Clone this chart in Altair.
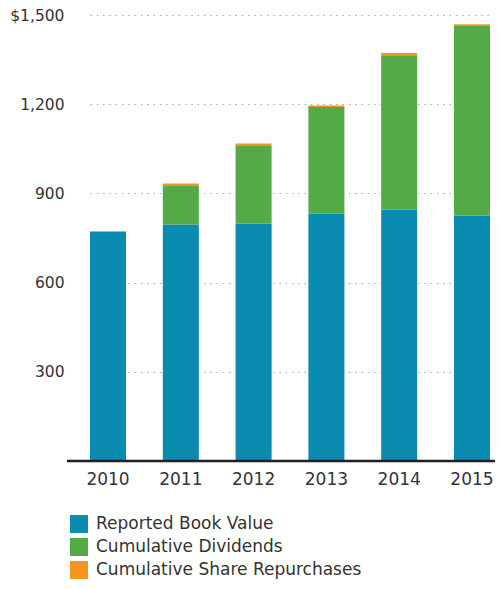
import altair as alt
import pandas as pd

years = ["2010", "2011", "2012", "2013", "2014", "2015"]
book_value = [772, 795, 799, 832, 846, 826]
dividends = [0, 132, 263, 359, 519, 637]
repurchases = [0, 6, 6, 5, 7, 6]
series = ["Reported Book Value", "Cumulative Dividends", "Cumulative Share Repurchases"]
colors = ["#0a8cb1", "#53aa47", "#f7941d"]
y_ticks = [300, 600, 900, 1200, 1500]

rows = []
for i, y in enumerate(years):
    for k, (name, vals) in enumerate(zip(series, [book_value, dividends, repurchases])):
        rows.append({"year": y, "series": name, "value": vals[i], "order": k})
df = pd.DataFrame(rows)

FONT = "DejaVu Sans"
W, H = 428, 446

bars = alt.Chart(df).mark_bar().encode(
    x=alt.X("year:N", title=None,
            scale=alt.Scale(range=[23, 423], paddingInner=0.505, paddingOuter=0),
            axis=alt.Axis(labelAngle=0, ticks=False, domain=False, labelPadding=10,
                          labelFontSize=17, labelFont=FONT, labelColor="#333333")),
    y=alt.Y("value:Q", title=None, stack="zero",
            scale=alt.Scale(domain=[0, 1500], nice=False),
            axis=alt.Axis(values=y_ticks, ticks=False, domain=False, labelPadding=3,
                          labelFontSize=15.5, labelFont=FONT, labelColor="#333333",
                          labelExpr="datum.value == 1500 ? '$1,500' : format(datum.value, ',')",
                          grid=True, gridColor="#aaaaaa", gridDash=[1.5, 4.8], gridWidth=1.2)),
    color=alt.Color("series:N", scale=alt.Scale(domain=series, range=colors),
                    legend=alt.Legend(title=None, orient="none", legendX=3, legendY=500,
                                      symbolType="square", symbolSize=324, symbolStrokeWidth=0,
                                      labelFontSize=17, labelFont=FONT, labelColor="#333333",
                                      labelOffset=8, rowPadding=5, labelLimit=400)),
    order=alt.Order("order:Q", sort="ascending"),
)

axis_line = alt.Chart(pd.DataFrame({"v": [0]})).mark_rule(color="#231f20", strokeWidth=2.5).encode(
    x=alt.value(0), x2=alt.value(W), y=alt.value(H)
)

chart = alt.layer(bars, axis_line).properties(
    width=W, height=H,
    autosize=alt.AutoSizeParams(type="none"),
    padding={"left": 59, "top": 7, "right": 0, "bottom": 119},
).configure_view(stroke=None)

chart.save("out.html", embed_options={"renderer": "svg", "actions": False})
